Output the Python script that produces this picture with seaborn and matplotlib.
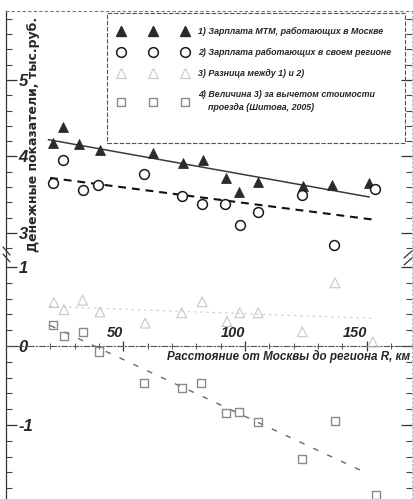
import numpy as np
import pandas as pd
import matplotlib
matplotlib.use("Agg")
import matplotlib.pyplot as plt
from matplotlib.lines import Line2D
from matplotlib.patches import Rectangle
from matplotlib import font_manager as fm
import seaborn as sns

# ---------------- data ----------------
dist_moscow = [21.0, 25.1, 31.9, 40.4, 62.1, 74.4, 82.6, 92.2, 97.7, 105.2, 124.0, 135.6, 151.1]
wage_moscow = [4.18, 4.39, 4.16, 4.08, 4.05, 3.91, 3.96, 3.72, 3.54, 3.66, 3.62, 3.63, 3.65]

dist_region = [21.0, 25.1, 33.3, 39.7, 58.6, 74.0, 82.2, 91.8, 97.9, 105.5, 123.3, 136.7, 153.4]
wage_region = [3.65, 3.95, 3.56, 3.63, 3.77, 3.48, 3.38, 3.38, 3.11, 3.27, 3.49, 2.84, 3.58]

dist_diff = [21.5, 25.6, 33.3, 40.4, 59.0, 74.0, 82.4, 92.6, 97.8, 105.4, 123.5, 137.0, 152.5]
wage_diff = [0.55, 0.46, 0.58, 0.43, 0.29, 0.42, 0.56, 0.31, 0.42, 0.42, 0.18, 0.80, 0.05]

dist_net = [21.2, 25.6, 33.6, 40.0, 58.5, 74.1, 82.0, 92.2, 97.5, 105.3, 123.4, 137.0, 153.8]
wage_net = [0.27, 0.13, 0.18, -0.07, -0.47, -0.53, -0.47, -0.85, -0.84, -0.96, -1.43, -0.95, -1.89]

trend_x_moscow = [19.2, 151.1]
trend_y_moscow = [4.22, 3.47]
trend_x_region = [19.9, 153.8]
trend_y_region = [3.72, 3.17]
trend_x_diff = [20.0, 152.0]
trend_y_diff = [0.50, 0.35]
trend_x_net = [20.0, 150.0]
trend_y_net = [0.26, -1.61]

x_major_ticks = [50, 100, 150]
x_tick_labels = ["50", "100", "150"]
y_top_major = [3, 4, 5]
y_top_labels = ["3", "4", "5"]
y_bot_major = [-1, 0, 1]
y_bot_labels = ["-1", "0", "1"]

legend_labels = [
    "1) Зарплата МТМ, работающих в Москве",
    "2) Зарплата работающих в своем регионе",
    "3) Разница между 1) и 2)",
    "4) Величина 3) за вычетом стоимости\n    проезда (Шитова, 2005)",
]
x_label = "Расстояние от Москвы до региона R, км"
y_label = "Денежные показатели, тыс.руб."

# ---------------- style ----------------
sns.set_theme(style="white")
avail = {f.name for f in fm.fontManager.ttflist}
if "Liberation Sans Narrow" in avail:
    NARROW = "Liberation Sans Narrow"
    SC = 1.15
elif "Liberation Sans" in avail:
    NARROW = "Liberation Sans"
    SC = 1.0
else:
    NARROW = "DejaVu Sans"
    SC = 0.9
FAM = [NARROW, "DejaVu Sans"]
plt.rcParams["font.family"] = FAM

W, H = 414, 499
fig = plt.figure(figsize=(W / 100, H / 100), dpi=100)
fig.patch.set_facecolor("white")

def px_box(x0, y0, x1, y1):
    return [x0 / W, 1 - y1 / H, (x1 - x0) / W, (y1 - y0) / H]

ax_top = fig.add_axes(px_box(6, 11, 412, 255))
ax_bot = fig.add_axes(px_box(6, 255, 412, 499))
for ax in (ax_top, ax_bot):
    ax.set_facecolor("white")
    ax.set_xlim(1.81, 168.6)

ax_top.set_ylim(2.712, 5.902)
ax_bot.set_ylim(-1.937, 1.152)

df_m = pd.DataFrame({"x": dist_moscow, "y": wage_moscow})
df_r = pd.DataFrame({"x": dist_region, "y": wage_region})
df_d = pd.DataFrame({"x": dist_diff, "y": wage_diff})
df_n = pd.DataFrame({"x": dist_net, "y": wage_net})

# trend lines
sns.lineplot(x=trend_x_moscow, y=trend_y_moscow, ax=ax_top, color="#3a3a3a", lw=1.1, sort=False)
sns.lineplot(x=trend_x_region, y=trend_y_region, ax=ax_top, color="#111111", lw=1.5, sort=False)
ax_top.lines[-1].set_dashes((3.8, 2.8))
sns.lineplot(x=trend_x_diff, y=trend_y_diff, ax=ax_bot, color="#d2d2d2", lw=0.9, sort=False)
ax_bot.lines[-1].set_dashes((2, 3))
sns.lineplot(x=trend_x_net, y=trend_y_net, ax=ax_bot, color="#6a6a6a", lw=1.0, sort=False)
ax_bot.lines[-1].set_dashes((4, 7))

# points
sns.scatterplot(data=df_m, x="x", y="y", ax=ax_top, marker="^", s=50,
                color="#2b2b2b", edgecolor="#2b2b2b", linewidth=0.6, zorder=3)
sns.scatterplot(data=df_r, x="x", y="y", ax=ax_top, marker="o", s=50,
                facecolor="white", edgecolor="#1a1a1a", linewidth=1.1, zorder=3)
sns.scatterplot(data=df_d, x="x", y="y", ax=ax_bot, marker="^", s=50,
                facecolor="none", edgecolor="#c8c8c8", linewidth=0.8, zorder=3)
sns.scatterplot(data=df_n, x="x", y="y", ax=ax_bot, marker="s", s=34,
                facecolor="none", edgecolor="#8a8a8a", linewidth=1.0, zorder=3)

for ax in (ax_top, ax_bot):
    ax.set_xlabel("")
    ax.set_ylabel("")

# ---------------- spines ----------------
ax_top.spines["bottom"].set_visible(False)
ax_top.spines["top"].set_linestyle((0, (2, 3)))
ax_top.spines["top"].set_color("#777777")
ax_top.spines["top"].set_linewidth(0.8)
for ax in (ax_top, ax_bot):
    ax.spines["left"].set_color("#333333")
    ax.spines["left"].set_linewidth(0.9)
    ax.spines["right"].set_color("#b0b0b0")
    ax.spines["right"].set_linewidth(0.6)
    ax.spines["right"].set_linestyle((0, (2, 3)))
ax_bot.spines["bottom"].set_visible(False)
ax_bot.spines["top"].set_position(("data", 0))
ax_bot.spines["top"].set_color("#555555")
ax_bot.spines["top"].set_linewidth(0.8)
ax_bot.spines["top"].set_linestyle((0, (5, 2, 1, 2)))

# ---------------- ticks ----------------
ytick_font = dict(family=FAM, weight="bold", style="italic", size=12 * SC)
xtick_font = dict(family=FAM, weight="bold", style="italic", size=10.5 * SC)

ax_top.set_xticks([])
ax_top.tick_params(axis="x", which="both", bottom=False, top=False)

ax_bot.xaxis.tick_top()
ax_bot.set_xticks(x_major_ticks)
ax_bot.set_xticks(np.arange(10, 170, 10), minor=True)
ax_bot.set_xticklabels(x_tick_labels, fontdict=xtick_font)
for lbl in ax_bot.get_xticklabels():
    lbl.set_horizontalalignment("right")
ax_bot.tick_params(axis="x", which="major", direction="inout", length=7, width=0.9,
                   color="#333333", pad=1, top=True, bottom=False)
ax_bot.tick_params(axis="x", which="minor", direction="inout", length=4, width=0.7,
                   color="#555555", top=True, bottom=False)

for ax, majors, labels, mins in ((ax_top, y_top_major, y_top_labels, np.arange(2.8, 5.81, 0.2)),
                                 (ax_bot, y_bot_major, y_bot_labels, np.arange(-1.8, 1.01, 0.2))):
    ax.set_yticks(majors)
    ax.set_yticks(mins, minor=True)
    ax.set_yticklabels(labels, fontdict=ytick_font)
    for lbl in ax.get_yticklabels():
        lbl.set_horizontalalignment("left")
    ax.tick_params(axis="y", which="major", direction="in", length=8, width=0.9,
                   color="#333333", pad=-9, left=True, right=True)
    ax.tick_params(axis="y", which="minor", direction="in", length=4, width=0.8,
                   color="#444444", left=True, right=True)

# ---------------- axis labels ----------------
ax_bot.set_xlabel(x_label, fontdict=dict(family=FAM, weight="bold", style="italic",
                  size=8.4 * SC), ha="right", va="center")
ax_bot.xaxis.set_label_position("top")
ax_bot.xaxis.set_label_coords((410 - 6) / 406, (499 - 360) / 244)

ax_top.set_ylabel(y_label, fontdict=dict(family=["DejaVu Sans"], weight="bold", size=9),
                  va="center", ha="center")
ax_top.yaxis.set_label_coords((34 - 6) / 406, (255 - 134) / 244)

# ---------------- legend ----------------
handles = [
    Line2D([], [], ls="none", marker="^", ms=7, mfc="#2b2b2b", mec="#2b2b2b"),
    Line2D([], [], ls="none", marker="o", ms=7, mfc="white", mec="#1a1a1a", mew=1.1),
    Line2D([], [], ls="none", marker="^", ms=7, mfc="none", mec="#c8c8c8", mew=0.8),
    Line2D([], [], ls="none", marker="s", ms=6, mfc="none", mec="#8a8a8a", mew=1.0),
]
fs = 6.4 * SC
fspx = fs * 100 / 72
leg = ax_top.legend(handles, legend_labels, numpoints=3, loc="upper left",
                    bbox_to_anchor=((121 - 0.3 * fspx) / W, 1 - 27 / H),
                    bbox_transform=fig.transFigure, frameon=False,
                    borderpad=0, borderaxespad=0,
                    handlelength=(64 + 0.6 * fspx) / fspx, handletextpad=10.7 / fspx,
                    labelspacing=12.0 / fspx,
                    prop=dict(family=FAM, weight="bold", style="italic", size=fs))
for t in leg.get_texts():
    t.set_linespacing(1.6)
box = Rectangle((107 / W, 1 - 143 / H), (405 - 107) / W, (143 - 13) / H,
                transform=fig.transFigure, fill=False, ec="#555555", lw=0.8,
                ls=(0, (4, 1.5)), zorder=5)
fig.add_artist(box)

# ---------------- axis break marks ----------------
for (x0, x1, y0, y1) in ((3, 10, 247, 255), (3, 10, 254, 262)):
    fig.add_artist(Line2D([x0 / W, x1 / W], [1 - y0 / H, 1 - y1 / H],
                          transform=fig.transFigure, color="#333333", lw=0.9))
for (x0, x1, y0, y1) in ((404, 412, 258, 251), (404, 412, 265, 258)):
    fig.add_artist(Line2D([x0 / W, x1 / W], [1 - y0 / H, 1 - y1 / H],
                          transform=fig.transFigure, color="#333333", lw=0.9))

fig.savefig("out.png", dpi=100, facecolor="white")
